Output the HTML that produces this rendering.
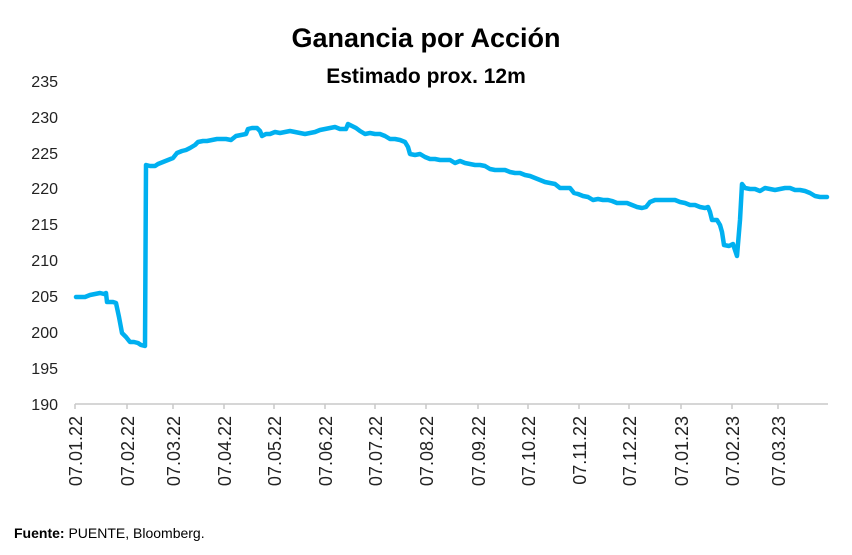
<!DOCTYPE html>
<html><head><meta charset="utf-8"><style>
body{margin:0;background:#fff;font-family:"Liberation Sans",sans-serif;}
</style></head><body>
<svg width="852" height="550" xmlns="http://www.w3.org/2000/svg" font-family="Liberation Sans, sans-serif">
<rect width="852" height="550" fill="#fff"/>
<text x="426" y="47" text-anchor="middle" font-size="27" font-weight="bold" fill="#000">Ganancia por Acción</text>
<text x="426" y="83" text-anchor="middle" font-size="21" font-weight="bold" fill="#000">Estimado prox. 12m</text>
<g font-size="16" fill="#222" text-anchor="end">
<text x="58" y="87">235</text><text x="58" y="123">230</text><text x="58" y="159">225</text>
<text x="58" y="194">220</text><text x="58" y="230">215</text><text x="58" y="266">210</text>
<text x="58" y="302">205</text><text x="58" y="338">200</text><text x="58" y="374">195</text>
<text x="58" y="410">190</text>
</g>
<line x1="75" y1="404" x2="828" y2="404" stroke="#c8c8c8" stroke-width="1.5"/>
<g stroke="#c8c8c8" stroke-width="1.5">
<line x1="75" y1="404" x2="75" y2="409"/><line x1="127" y1="404" x2="127" y2="409"/>
<line x1="173" y1="404" x2="173" y2="409"/><line x1="224" y1="404" x2="224" y2="409"/>
<line x1="274" y1="404" x2="274" y2="409"/><line x1="325" y1="404" x2="325" y2="409"/>
<line x1="375" y1="404" x2="375" y2="409"/><line x1="426" y1="404" x2="426" y2="409"/>
<line x1="478" y1="404" x2="478" y2="409"/><line x1="528" y1="404" x2="528" y2="409"/>
<line x1="579" y1="404" x2="579" y2="409"/><line x1="629" y1="404" x2="629" y2="409"/>
<line x1="681" y1="404" x2="681" y2="409"/><line x1="732" y1="404" x2="732" y2="409"/>
<line x1="778" y1="404" x2="778" y2="409"/>
</g>
<g font-size="18" fill="#222" text-anchor="end">
<text transform="translate(82,416) rotate(-90)">07.01.22</text>
<text transform="translate(134,416) rotate(-90)">07.02.22</text>
<text transform="translate(180,416) rotate(-90)">07.03.22</text>
<text transform="translate(231,416) rotate(-90)">07.04.22</text>
<text transform="translate(281,416) rotate(-90)">07.05.22</text>
<text transform="translate(332,416) rotate(-90)">07.06.22</text>
<text transform="translate(382,416) rotate(-90)">07.07.22</text>
<text transform="translate(433,416) rotate(-90)">07.08.22</text>
<text transform="translate(485,416) rotate(-90)">07.09.22</text>
<text transform="translate(535,416) rotate(-90)">07.10.22</text>
<text transform="translate(586,416) rotate(-90)">07.11.22</text>
<text transform="translate(636,416) rotate(-90)">07.12.22</text>
<text transform="translate(688,416) rotate(-90)">07.01.23</text>
<text transform="translate(739,416) rotate(-90)">07.02.23</text>
<text transform="translate(785,416) rotate(-90)">07.03.23</text>
</g>
<polyline fill="none" stroke="#00b0f0" stroke-width="4.5" stroke-linejoin="round" stroke-linecap="round" points="76,297 85,297 90,295 95,294 100,293 104,294 106,293 107,302 113,302 116,303 119,317 122,333 126,337 130,342 134,342 138,343 141,345 145,346 146,165 150,166 155,166 158,164 163,162 168,160 173,158 177,153 182,151 186,150 190,148 195,145 198,142 203,141 207,141 212,140 217,139 222,139 226,139 231,140 236,136 241,135 246,134 248,129 252,128 257,128 260,131 262,136 266,134 270,134 275,132 280,133 285,132 290,131 295,132 300,133 305,134 310,133 315,132 320,130 325,129 330,128 335,127 340,129 346,129 348,124 352,126 356,128 360,131 365,134 370,133 375,134 380,134 385,136 390,139 395,139 400,140 405,142 408,147 410,154 415,155 420,154 425,157 430,159 435,159 440,160 445,160 450,160 455,163 460,161 465,163 470,164 475,165 480,165 485,166 490,169 495,170 500,170 505,170 510,172 515,173 520,173 525,175 530,176 535,178 540,180 545,182 550,183 555,184 560,188 565,188 570,188 574,193 578,194 583,196 588,197 593,200 598,199 603,200 608,200 612,201 617,203 622,203 627,203 632,205 637,207 642,208 646,207 650,202 655,200 660,200 665,200 670,200 675,200 680,202 685,203 690,205 695,205 700,207 705,208 708,207 710,212 712,220 717,220 720,225 722,232 724,245 729,246 733,244 735,250 737,256 740,220 742,184 745,188 750,189 755,189 760,191 765,188 770,189 775,190 780,189 785,188 790,188 795,190 800,190 805,191 810,193 815,196 820,197 827,197"/>
<text x="14" y="538" font-size="14" fill="#000"><tspan font-weight="bold">Fuente:</tspan> PUENTE, Bloomberg.</text>
</svg>
</body></html>
